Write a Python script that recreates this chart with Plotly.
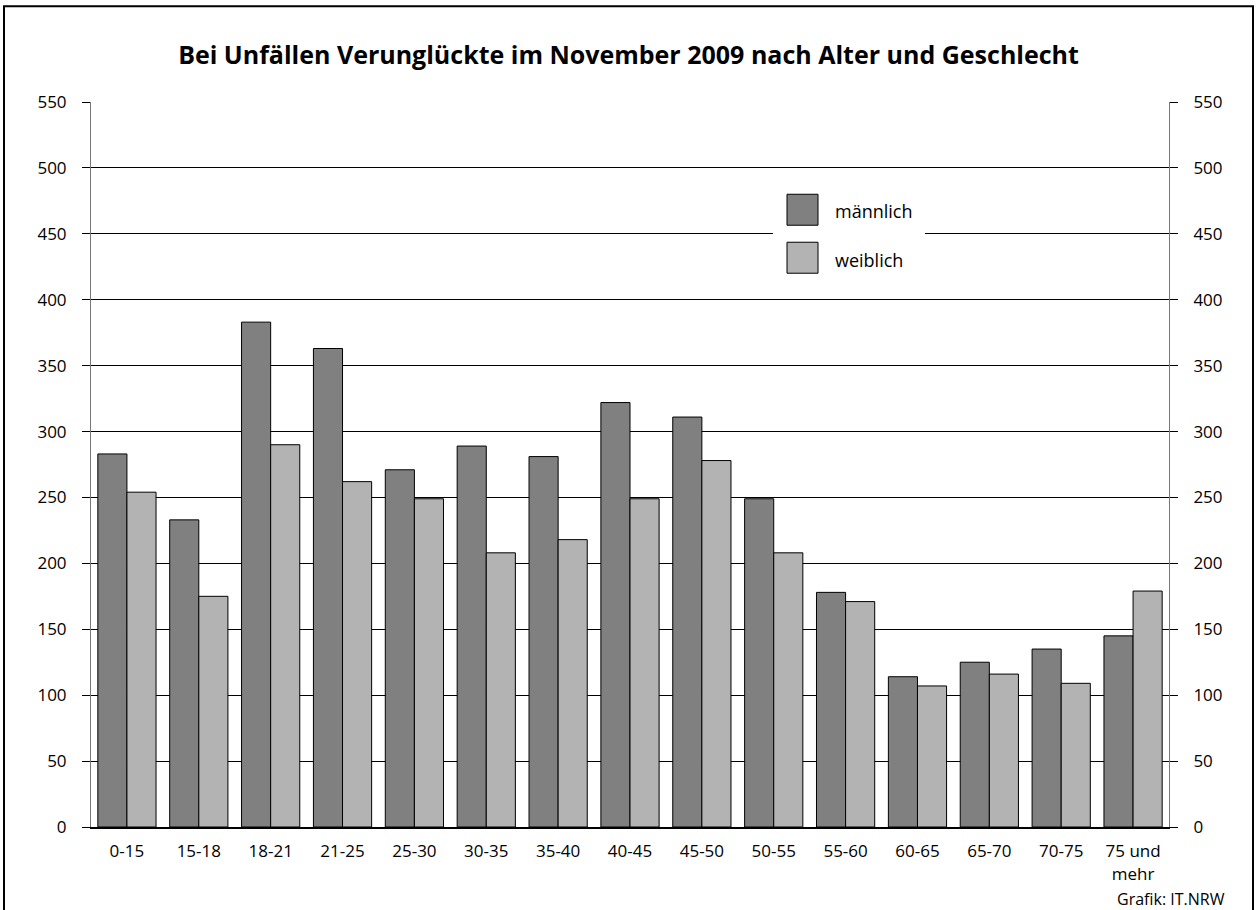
import plotly.graph_objects as go

categories = ["0-15", "15-18", "18-21", "21-25", "25-30", "30-35", "35-40", "40-45",
              "45-50", "50-55", "55-60", "60-65", "65-70", "70-75", "75 und<br>mehr"]
maennlich = [283, 233, 383, 363, 271, 289, 281, 322, 311, 249, 178, 114, 125, 135, 145]
weiblich = [254, 175, 290, 262, 249, 208, 218, 249, 278, 208, 171, 107, 116, 109, 179]
y_ticks = list(range(0, 551, 50))

W, H = 1257, 910
L, R, T, B = 91, 1169, 101.7, 827
pw, ph = R - L, B - T

def px(x):
    return (x - L) / pw

def py(y):
    return (B - y) / ph

FONT = "Open Sans"
DARK = "#808080"
LIGHT = "#b3b3b3"

fig = go.Figure()
fig.add_trace(go.Bar(x=categories, y=maennlich, name="männlich",
                     marker=dict(color=DARK, line=dict(color="black", width=1))))
fig.add_trace(go.Bar(x=categories, y=weiblich, name="weiblich",
                     marker=dict(color=LIGHT, line=dict(color="black", width=1))))
fig.add_trace(go.Scatter(x=categories, y=maennlich, yaxis="y2", mode="markers",
                         marker=dict(opacity=0, size=1), showlegend=False, hoverinfo="skip"))

axis_font = dict(family=FONT, size=17, color="black")
fig.update_layout(
    width=W, height=H,
    margin=dict(l=L, r=W - R, t=T, b=H - B),
    paper_bgcolor="white", plot_bgcolor="white",
    barmode="group", bargap=0.19, bargroupgap=0,
    showlegend=False,
    title=dict(text="<b>Bei Unfällen Verunglückte im November 2009 nach Alter und Geschlecht</b>",
               x=0.5, xanchor="center", y=1 - 55 / H, yanchor="middle",
               font=dict(family=FONT, size=25, color="black")),
    xaxis=dict(tickfont=axis_font, showline=True, linecolor="black", linewidth=2,
               ticks="", showgrid=False, ticklabelstandoff=8,
               range=[-0.5, len(categories) - 0.5]),
    yaxis=dict(range=[0, 550], tickvals=y_ticks, tickfont=axis_font,
               showgrid=True, gridcolor="black", gridwidth=1, zeroline=False,
               showline=True, linecolor="#777777", linewidth=1,
               ticks="outside", ticklen=8, tickcolor="black", ticklabelstandoff=12),
    yaxis2=dict(range=[0, 550], tickvals=y_ticks, tickfont=axis_font, overlaying="y",
                side="right", showgrid=False, zeroline=False,
                showline=True, linecolor="#777777", linewidth=1,
                ticks="outside", ticklen=8, tickcolor="black", ticklabelstandoff=12),
)

shapes = [
    # outer frame
    dict(type="rect", xref="paper", yref="paper",
         x0=px(4), x1=px(1253), y0=py(930), y1=py(6),
         line=dict(color="black", width=2), fillcolor="rgba(0,0,0,0)", layer="above"),
    # legend background
    dict(type="rect", xref="paper", yref="paper",
         x0=px(773), x1=px(925), y0=py(285), y1=py(182),
         line=dict(width=0), fillcolor="white", layer="above"),
    dict(type="rect", xref="paper", yref="paper",
         x0=px(787), x1=px(818), y0=py(225), y1=py(194),
         line=dict(color="black", width=1), fillcolor=DARK, layer="above"),
    dict(type="rect", xref="paper", yref="paper",
         x0=px(787), x1=px(818), y0=py(273), y1=py(242),
         line=dict(color="black", width=1), fillcolor=LIGHT, layer="above"),
]
fig.update_layout(shapes=shapes)

annots = [
    dict(text="männlich", x=px(833), y=py(211)),
    dict(text="weiblich", x=px(833), y=py(260)),
]
for a in annots:
    fig.add_annotation(text=a["text"], x=a["x"], y=a["y"], xref="paper", yref="paper",
                       xanchor="left", yanchor="middle", showarrow=False,
                       font=dict(family=FONT, size=18, color="black"))
fig.add_annotation(text="Grafik: IT.NRW", x=px(1227), y=py(899), xref="paper", yref="paper",
                   xanchor="right", yanchor="middle", showarrow=False,
                   font=dict(family=FONT, size=16, color="black"))

fig.write_html("out.html", config={"displayModeBar": False},
               post_script="document.body.style.margin='0';document.body.style.overflow='hidden';")
